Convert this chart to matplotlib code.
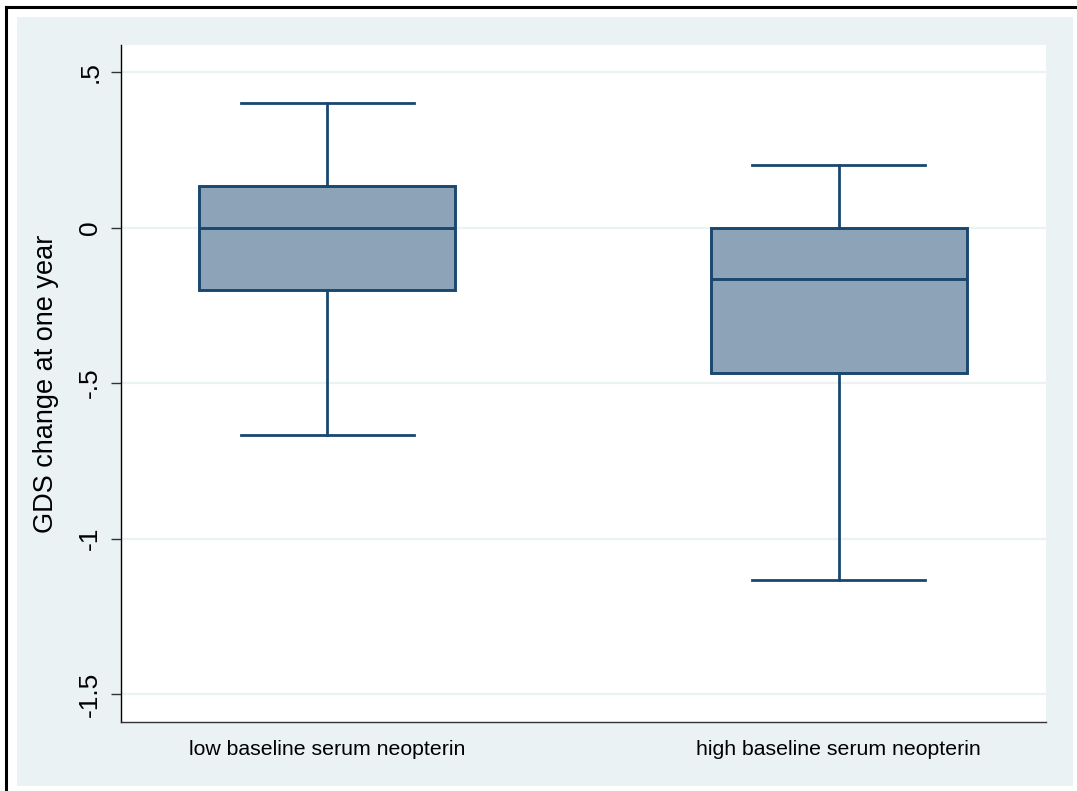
import matplotlib
matplotlib.use("Agg")
import matplotlib.pyplot as plt
from matplotlib.patches import Rectangle
from matplotlib.lines import Line2D

plt.rcParams['font.family'] = ['Liberation Sans', 'DejaVu Sans']

groups = ["low baseline serum neopterin", "high baseline serum neopterin"]
whisker_low = [-0.667, -1.133]
q1 = [-0.2, -0.467]
median = [0.0, -0.167]
q3 = [0.133, 0.0]
whisker_high = [0.4, 0.2]

yticks = [0.5, 0.0, -0.5, -1.0, -1.5]
ytick_labels = [".5", "0", "-.5", "-1", "-1.5"]
ylabel = "GDS change at one year"

navy = "#1A476F"
fill = "#8DA3B8"
bg = "#EAF2F3"

fig = plt.figure(figsize=(10.77, 7.91), dpi=100)
fig.patch.set_facecolor("white")

# shaded graph region and outer frame
fig.add_artist(Rectangle((17 / 1077, 5 / 791), (1073 - 17) / 1077, (786 - 17) / 791,
                         transform=fig.transFigure, facecolor=bg, edgecolor="none", zorder=0))
fig.add_artist(Line2D([6 / 1077, 6 / 1077], [0, 1 - 7 / 791], transform=fig.transFigure,
                      color="black", lw=2.2))
fig.add_artist(Line2D([6 / 1077, 1], [1 - 7 / 791, 1 - 7 / 791], transform=fig.transFigure,
                      color="black", lw=2.2))

ax = fig.add_axes([121 / 1077, 69 / 791, (1046 - 121) / 1077, (722 - 45) / 791])
ax.set_facecolor("white")
ax.set_zorder(1)

stats = []
for i, g in enumerate(groups):
    stats.append(dict(label=g, whislo=whisker_low[i], q1=q1[i], med=median[i],
                      q3=q3[i], whishi=whisker_high[i], fliers=[]))

ax.bxp(stats, positions=[1, 2], widths=0.5, patch_artist=True, showfliers=False,
       boxprops=dict(facecolor=fill, edgecolor=navy, linewidth=2.1),
       medianprops=dict(color=navy, linewidth=2.1),
       whiskerprops=dict(color=navy, linewidth=2.0),
       capprops=dict(color=navy, linewidth=2.0),
       capwidths=0.338, zorder=3)

ax.set_xlim(0.597, 2.405)
ax.set_ylim(-1.590, 0.587)

ax.set_yticks(yticks)
ax.set_yticklabels(ytick_labels, rotation=90, va="center", fontsize=19)
ax.set_xticks([1, 2])
ax.set_xticklabels(groups, fontsize=15.3)
ax.tick_params(axis="x", length=0, pad=13)
ax.tick_params(axis="y", length=7.5, width=1.0, color="#333333", pad=6)
ax.set_ylabel(ylabel, fontsize=19.5, labelpad=14)

ax.grid(axis="y", color=bg, linewidth=1.6, zorder=0)
ax.set_axisbelow(True)
for s in ["top", "right"]:
    ax.spines[s].set_visible(False)
ax.spines["left"].set_color("black")
ax.spines["bottom"].set_color("#333333")
ax.spines["left"].set_linewidth(1.0)
ax.spines["bottom"].set_linewidth(1.0)

fig.savefig("out.png", dpi=100, facecolor=fig.get_facecolor())
